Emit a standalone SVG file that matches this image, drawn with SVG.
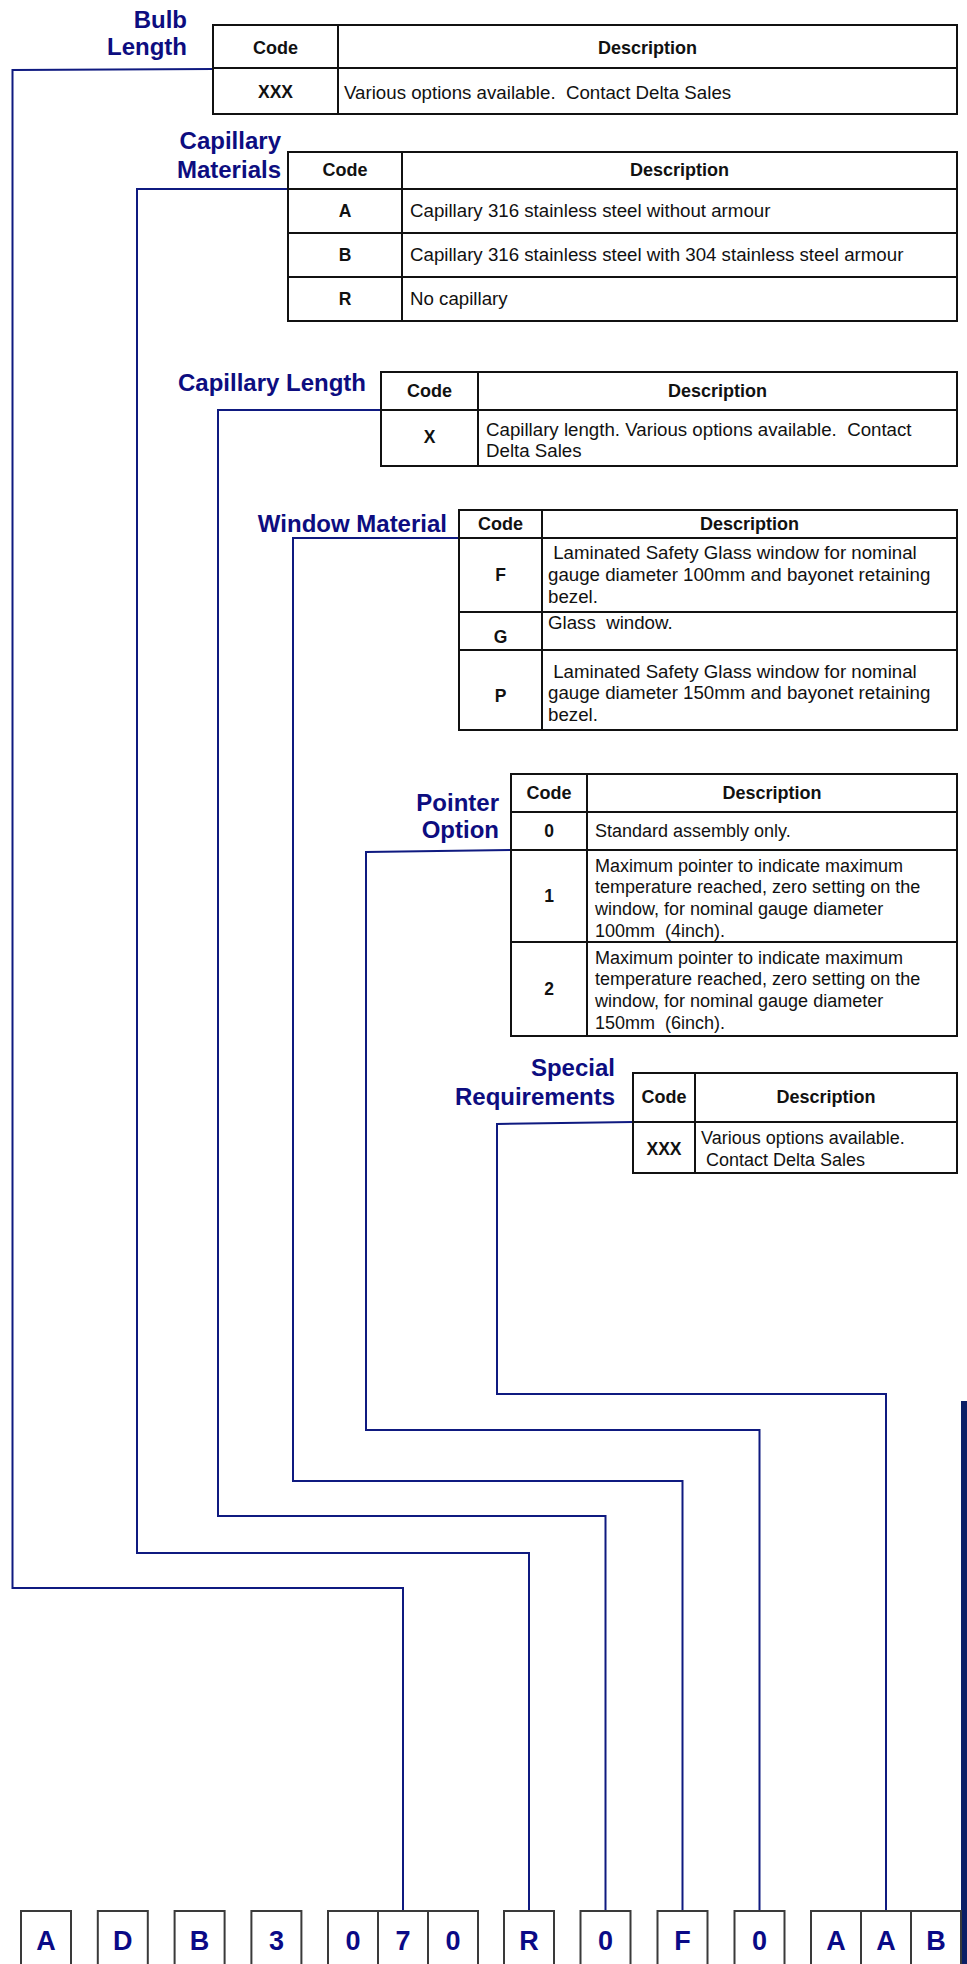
<svg xmlns="http://www.w3.org/2000/svg" width="967" height="1964" viewBox="0 0 967 1964">
<style>
.bg{fill:#ffffff}
.tb{fill:#ffffff;stroke:#111;stroke-width:2}
.ln{stroke:#111;stroke-width:2;fill:none}
.lbl{font-family:"Liberation Sans",Arial,sans-serif;font-weight:bold;font-size:24px;fill:#0d0d80;text-anchor:end}
.hd{font-family:"Liberation Sans",Arial,sans-serif;font-weight:bold;font-size:18px;fill:#111;text-anchor:middle}
.cd{font-family:"Liberation Sans",Arial,sans-serif;font-weight:bold;font-size:17.5px;fill:#111;text-anchor:middle}
.tx{font-family:"Liberation Sans",Arial,sans-serif;font-size:18.7px;fill:#111}
.t5{font-family:"Liberation Sans",Arial,sans-serif;font-size:18px;fill:#111}
.con{stroke:#0f1a80;stroke-width:2;fill:none}
.box{fill:#ffffff;stroke:#3a3a3a;stroke-width:2}
.bx{font-family:"Liberation Sans",Arial,sans-serif;font-weight:bold;font-size:27px;fill:#0a0a86;text-anchor:middle}
</style>
<rect class="bg" x="0" y="0" width="967" height="1964"/>

<g id="connectors">
<polyline class="con" points="213,69 12.5,70 12.5,1588 403,1588 403,1911"/>
<polyline class="con" points="288,189 137,189 137,1553 529,1553 529,1911"/>
<polyline class="con" points="381,410 218,410 218,1516 605.5,1516 605.5,1911"/>
<polyline class="con" points="459,538 293,538 293,1481 682.5,1481 682.5,1911"/>
<polyline class="con" points="511,850 366,852 366,1430 759.5,1430 759.5,1911"/>
<polyline class="con" points="633,1122 497,1124 497,1394 886,1394 886,1911"/>
</g>

<g id="bulb-length">
<text class="lbl" x="187" y="28">Bulb</text>
<text class="lbl" x="187" y="55">Length</text>
<rect class="tb" x="213" y="25" width="744" height="89"/>
<line class="ln" x1="213" y1="68" x2="957" y2="68"/>
<line class="ln" x1="338" y1="25" x2="338" y2="114"/>
<text class="hd" x="275.5" y="54">Code</text>
<text class="hd" x="647.5" y="54">Description</text>
<text class="cd" x="275.5" y="98">XXX</text>
<text class="tx" x="344" y="99" xml:space="preserve">Various options available.  Contact Delta Sales</text>
</g>

<g id="capillary-materials">
<text class="lbl" x="281" y="149">Capillary</text>
<text class="lbl" x="281" y="178">Materials</text>
<rect class="tb" x="288" y="152" width="669" height="169"/>
<line class="ln" x1="288" y1="189" x2="957" y2="189"/>
<line class="ln" x1="288" y1="233" x2="957" y2="233"/>
<line class="ln" x1="288" y1="277" x2="957" y2="277"/>
<line class="ln" x1="402" y1="152" x2="402" y2="321"/>
<text class="hd" x="345" y="176">Code</text>
<text class="hd" x="679.5" y="176">Description</text>
<text class="cd" x="345" y="217">A</text>
<text class="tx" x="410" y="217">Capillary 316 stainless steel without armour</text>
<text class="cd" x="345" y="261">B</text>
<text class="tx" x="410" y="261">Capillary 316 stainless steel with 304 stainless steel armour</text>
<text class="cd" x="345" y="305">R</text>
<text class="tx" x="410" y="305">No capillary</text>
</g>

<g id="capillary-length">
<text class="lbl" x="366" y="391">Capillary Length</text>
<rect class="tb" x="381" y="372" width="576" height="94"/>
<line class="ln" x1="381" y1="410" x2="957" y2="410"/>
<line class="ln" x1="478" y1="372" x2="478" y2="466"/>
<text class="hd" x="429.5" y="397">Code</text>
<text class="hd" x="717.5" y="397">Description</text>
<text class="cd" x="429.5" y="443">X</text>
<text class="tx" x="486" y="436" xml:space="preserve">Capillary length. Various options available.  Contact</text>
<text class="tx" x="486" y="457">Delta Sales</text>
</g>

<g id="window-material">
<text class="lbl" x="447" y="532">Window Material</text>
<rect class="tb" x="459" y="510" width="498" height="220"/>
<line class="ln" x1="459" y1="538" x2="957" y2="538"/>
<line class="ln" x1="459" y1="612" x2="957" y2="612"/>
<line class="ln" x1="459" y1="650" x2="957" y2="650"/>
<line class="ln" x1="542" y1="510" x2="542" y2="730"/>
<text class="hd" x="500.5" y="530">Code</text>
<text class="hd" x="749.5" y="530">Description</text>
<text class="cd" x="500.5" y="581">F</text>
<text class="tx" x="548" y="559" xml:space="preserve"> Laminated Safety Glass window for nominal</text>
<text class="tx" x="548" y="581">gauge diameter 100mm and bayonet retaining</text>
<text class="tx" x="548" y="603">bezel.</text>
<text class="cd" x="500.5" y="643">G</text>
<text class="tx" x="548" y="629" xml:space="preserve">Glass  window.</text>
<text class="cd" x="500.5" y="702">P</text>
<text class="tx" x="548" y="678" xml:space="preserve"> Laminated Safety Glass window for nominal</text>
<text class="tx" x="548" y="699">gauge diameter 150mm and bayonet retaining</text>
<text class="tx" x="548" y="721">bezel.</text>
</g>

<g id="pointer-option">
<text class="lbl" x="499" y="811">Pointer</text>
<text class="lbl" x="499" y="838">Option</text>
<rect class="tb" x="511" y="774" width="446" height="262"/>
<line class="ln" x1="511" y1="812" x2="957" y2="812"/>
<line class="ln" x1="511" y1="850" x2="957" y2="850"/>
<line class="ln" x1="511" y1="942" x2="957" y2="942"/>
<line class="ln" x1="587" y1="774" x2="587" y2="1036"/>
<text class="hd" x="549" y="799">Code</text>
<text class="hd" x="772" y="799">Description</text>
<text class="cd" x="549" y="837">0</text>
<text class="t5" x="595" y="837">Standard assembly only.</text>
<text class="cd" x="549" y="902">1</text>
<text class="t5" x="595" y="872">Maximum pointer to indicate maximum</text>
<text class="t5" x="595" y="893">temperature reached, zero setting on the</text>
<text class="t5" x="595" y="915">window, for nominal gauge diameter</text>
<text class="t5" x="595" y="937" xml:space="preserve">100mm  (4inch).</text>
<text class="cd" x="549" y="995">2</text>
<text class="t5" x="595" y="964">Maximum pointer to indicate maximum</text>
<text class="t5" x="595" y="985">temperature reached, zero setting on the</text>
<text class="t5" x="595" y="1007">window, for nominal gauge diameter</text>
<text class="t5" x="595" y="1029" xml:space="preserve">150mm  (6inch).</text>
</g>

<g id="special-requirements">
<text class="lbl" x="615" y="1076">Special</text>
<text class="lbl" x="615" y="1105">Requirements</text>
<rect class="tb" x="633" y="1073" width="324" height="100"/>
<line class="ln" x1="633" y1="1122" x2="957" y2="1122"/>
<line class="ln" x1="695" y1="1073" x2="695" y2="1173"/>
<text class="hd" x="664" y="1103">Code</text>
<text class="hd" x="826" y="1103">Description</text>
<text class="cd" x="664" y="1155">XXX</text>
<text class="t5" x="701" y="1144">Various options available.</text>
<text class="t5" x="701" y="1166" xml:space="preserve"> Contact Delta Sales</text>
</g>

<rect id="right-bar" x="961" y="1401" width="6" height="563" fill="#0c1f66"/>

<g id="code-boxes">
<rect class="box" x="21" y="1911" width="50" height="80"/>
<rect class="box" x="97.8" y="1911" width="50" height="80"/>
<rect class="box" x="174.6" y="1911" width="50" height="80"/>
<rect class="box" x="251.4" y="1911" width="50" height="80"/>
<rect class="box" x="328" y="1911" width="50" height="80"/>
<rect class="box" x="378" y="1911" width="50" height="80"/>
<rect class="box" x="428" y="1911" width="50" height="80"/>
<rect class="box" x="504" y="1911" width="50" height="80"/>
<rect class="box" x="580.5" y="1911" width="50" height="80"/>
<rect class="box" x="657.5" y="1911" width="50" height="80"/>
<rect class="box" x="734.5" y="1911" width="50" height="80"/>
<rect class="box" x="811" y="1911" width="50" height="80"/>
<rect class="box" x="861" y="1911" width="50" height="80"/>
<rect class="box" x="911" y="1911" width="50" height="80"/>
<text class="bx" x="46" y="1950">A</text>
<text class="bx" x="122.8" y="1950">D</text>
<text class="bx" x="199.6" y="1950">B</text>
<text class="bx" x="276.4" y="1950">3</text>
<text class="bx" x="353" y="1950">0</text>
<text class="bx" x="403" y="1950">7</text>
<text class="bx" x="453" y="1950">0</text>
<text class="bx" x="529" y="1950">R</text>
<text class="bx" x="605.5" y="1950">0</text>
<text class="bx" x="682.5" y="1950">F</text>
<text class="bx" x="759.5" y="1950">0</text>
<text class="bx" x="836" y="1950">A</text>
<text class="bx" x="886" y="1950">A</text>
<text class="bx" x="936" y="1950">B</text>
</g>
</svg>
